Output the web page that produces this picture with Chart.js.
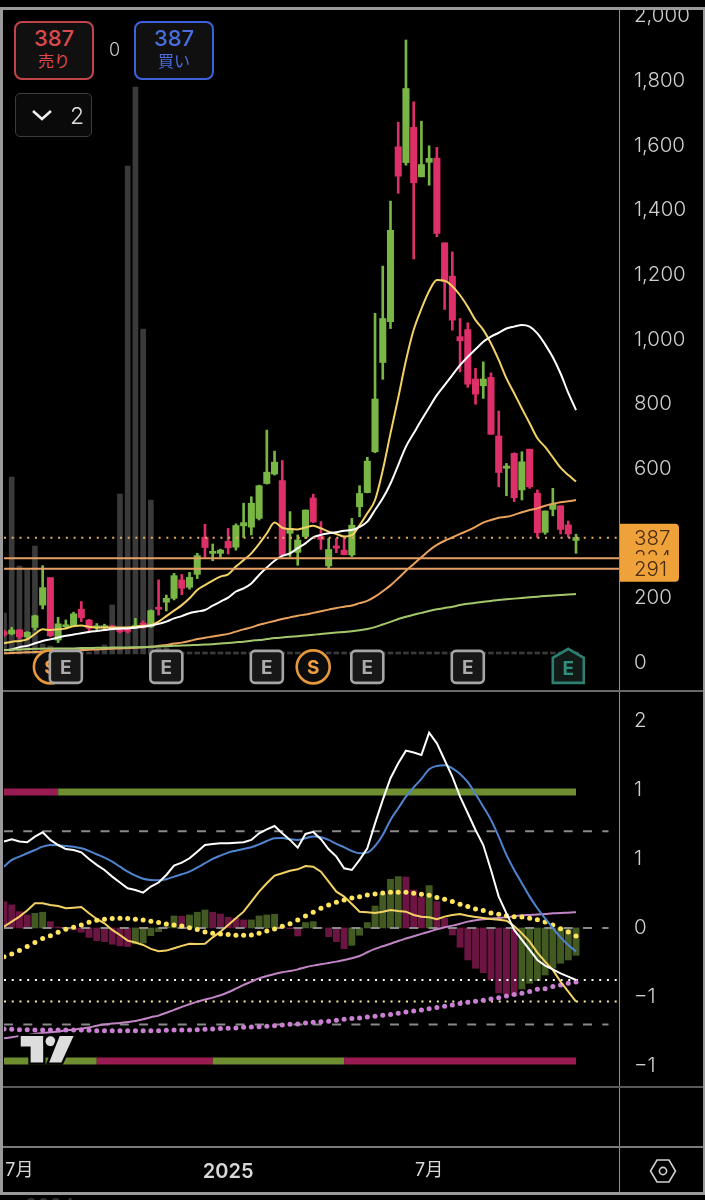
<!DOCTYPE html>
<html lang="ja">
<head>
<meta charset="utf-8">
<title>chart</title>
<script src="https://cdn.jsdelivr.net/npm/chart.js@4"></script>
<style>
html, body { margin: 0; background: #000; }
body { position: relative; width: 705px; height: 1200px; overflow: hidden; font-family: Inter, "Noto Sans CJK JP", sans-serif; }
canvas { position: absolute; display: block; }
#chartPrice { left: 4px; top: 2px; }
#chartOsc { left: 4px; top: 691px; }
.rule { position: absolute; background: #8e8e8e; }
.btn { position: absolute; box-sizing: border-box; background: #101010; border-radius: 8px; border: 2px solid; text-align: center; width: 80px; height: 59px; top: 21px; }
.btn b { display: block; font-weight: 500; font-size: 22px; line-height: 24px; margin-top: 3px; }
.btn span { display: block; font-size: 16px; line-height: 22px; }
</style>
</head>
<body>
<canvas id="chartPrice" width="698" height="688"></canvas>
<canvas id="chartOsc" width="698" height="500"></canvas>

<div class="rule" style="left:0;top:7px;width:705px;height:2.5px;background:#9a9a9a"></div>
<div class="rule" style="left:0;top:7px;width:3.3px;height:1188px;background:#9a9a9a"></div>
<div class="rule" style="left:702.5px;top:7px;width:2.5px;height:1188px;background:#9a9a9a"></div>
<div class="rule" style="left:0;top:1192px;width:705px;height:3px;background:#9a9a9a"></div>
<div class="rule" style="left:618.5px;top:8px;width:1.5px;height:1184px"></div>
<div class="rule" style="left:3px;top:690px;width:700px;height:1.5px;background:#6a6a6a"></div>
<div class="rule" style="left:3px;top:1086px;width:700px;height:1.5px;background:#5a5a5a"></div>
<div class="rule" style="left:3px;top:1146px;width:700px;height:1.5px;background:#7a7a7a"></div>

<div class="btn" style="left:14px;border-color:#c0454a;color:#dc4a4e"><b>387</b><span>売り</span></div>
<div style="position:absolute;left:109px;top:39px;color:#c8c8c8;font-size:18px;font-weight:300">0</div>
<div class="btn" style="left:134px;border-color:#3d62dc;color:#4a6ee0"><b>387</b><span>買い</span></div>
<div style="position:absolute;left:15px;top:93px;width:77px;height:44px;box-sizing:border-box;border:1.5px solid #3c3c3c;border-radius:5px;background:#0a0a0a">
  <svg width="22" height="14" style="position:absolute;left:15px;top:14px"><path d="M2 3 L11 11 L20 3" fill="none" stroke="#eee" stroke-width="2.6"/></svg>
  <div style="position:absolute;left:54px;top:8px;color:#ddd;font-size:23px;font-weight:300">2</div>
</div>

<svg style="position:absolute;left:13px;top:1030px" width="67" height="38" viewBox="40 990 200 115">
  <g fill="#ddd" stroke="#000" stroke-width="14" paint-order="stroke">
    <path d="M62 1008 H130 V1088 H92 V1040 H62 Z"/>
    <circle cx="152" cy="1024" r="15"/>
    <path d="M180 1008 H222 L185 1088 H148 Z"/>
  </g>
</svg>

<svg style="position:absolute;left:649px;top:1158px" width="28" height="26" viewBox="0 0 28 26">
  <path d="M8 2 H20 L26.5 13 L20 24 H8 L1.5 13 Z" fill="none" stroke="#d0d0d0" stroke-width="1.6"/>
  <circle cx="14" cy="13" r="3.6" fill="none" stroke="#d0d0d0" stroke-width="1.6"/>
</svg>

<div style="position:absolute;left:25px;top:1194px;color:#333;font-size:20px">2024</div>
<div style="position:absolute;left:171px;top:1194px;color:#333;font-size:20px">1日</div>

<script>
const opens = [
  97,90,102,81,110,179,264,71,112,114,
  166,133,109,109,115,102,100,110,123,112,
  169,188,200,257,234,274,389,339,339,376,
  358,424,420,447,555,584,564,401,342,391,
  510,391,300,362,349,334,483,527,653,929,
  1055,1596,1547,1656,1503,1548,1561,1299,1196,1009,
  1031,878,857,883,702,602,648,535,661,525,
  404,475,486,427,379];
const closes = [
  87,102,81,95,146,233,84,121,117,152,
  140,107,112,115,104,97,98,115,110,162,
  166,200,270,231,265,332,357,344,349,356,
  425,434,494,548,590,621,333,416,380,473,
  436,382,351,355,335,426,524,624,816,1065,
  1338,1505,1776,1485,1541,1560,1328,1179,1060,996,
  862,831,878,707,589,609,511,622,545,403,
  470,492,413,399,388];
const highs = [
  102,110,104,97,148,301,264,141,133,157,
  190,135,122,120,117,110,110,138,130,164,
  257,210,277,274,280,339,429,368,352,416,
  430,494,514,550,720,655,626,468,396,473,
  522,437,385,385,391,447,548,636,1081,1227,
  1428,1672,1926,1735,1675,1599,1594,1299,1271,1065,
  1052,911,931,897,779,617,650,653,661,535,
  470,540,486,439,398];
const lows = [
  81,87,74,76,102,167,81,63,105,112,
  128,97,102,102,102,93,93,107,107,110,
  148,161,195,211,228,261,327,316,327,337,
  349,388,396,442,553,581,331,329,302,385,
  434,351,294,341,334,329,452,526,650,877,
  1034,1452,1539,1249,1503,1477,1318,1093,1029,900,
  852,800,818,707,545,517,499,504,540,389,
  398,455,399,389,339];
const volumes = [
  4.1,17.7,8.8,8.4,10.8,1,.8,.6,.5,.4,
  .3,.2,.4,.9,4.9,16,48.8,56.7,32.5,15.4,
  .6,.6,.2,.2,.2,.2,.2,.2,.2,.2,
  .2,.2,.2,.2,.2,.2,.2,.2,.2,.2,
  .2,.2,.2,.2,.2,.2,.2,.2,.2,.2,
  .2,.2,.2,.2,.2,.2,.2,.2,.2,.2,
  .2,.2,.2,.2,.2,.2,.2,.2,.2,.2,
  .2,.2,.2,.2,.2];
const maYellow = [
  61,66,68,73,90,104,102,104,107,114,
  116,112,109,110,110,110,110,112,115,117,
  128,145,162,179,200,226,241,255,267,274,
  298,318,339,368,401,434,418,414,413,419,
  424,416,406,399,391,395,426,463,504,596,
  710,820,935,1030,1095,1150,1184,1182,1165,1137,
  1101,1060,1030,988,937,880,834,787,741,695,
  668,636,604,581,561];
const maWhite = [
  40,42,49,53,61,68,73,79,84,88,
  92,96,99,102,105,106,107,109,112,116,
  121,128,138,145,154,159,164,177,190,202,
  221,231,246,272,295,316,331,339,355,370,
  388,396,401,404,409,411,421,437,473,509,
  555,612,669,710,751,790,828,859,890,921,
  947,970,993,1009,1021,1034,1040,1045,1040,1019,
  985,945,895,835,782];
const maOrange = [
  30,31,32,33,34,35,36,37,38,39,
  40,41,42,43,44,45,46,47,49,50,
  53,56,60,63,68,74,78,82,86,90,
  97,104,110,118,124,130,136,141,146,150,
  155,160,165,170,174,178,185,192,205,222,
  240,262,285,306,327,348,365,378,388,399,
  409,421,434,442,449,452,458,466,473,478,
  486,492,497,500,504];
const maGreen = [
  40,41,42,43,44,44,45,45,45,45,
  46,46,47,47,48,48,48,49,49,50,
  51,52,53,54,55,56,57,58,60,62,
  64,66,69,71,74,77,79,81,83,85,
  87,90,92,94,96,98,101,105,111,119,
  127,136,143,149,155,161,166,170,174,179,
  183,186,189,192,195,197,199,201,203,205,
  207,209,210,212,213];

const oscWhite = [
  .626,.643,.626,.621,.662,.693,.638,.601,.572,.565,
  .548,.5,.457,.42,.372,.329,.287,.275,.256,.3,
  .329,.384,.452,.473,.505,.553,.601,.609,.614,.614,
  .618,.621,.638,.686,.715,.739,.686,.638,.582,.681,
  .696,.643,.57,.517,.432,.42,.493,.577,.758,.928,
  1.085,1.193,1.285,1.271,1.254,1.415,1.338,1.217,1.097,.952,
  .831,.71,.601,.42,.227,.106,-.014,-.087,-.159,-.232,
  -.273,-.3,-.329,-.353,-.377];
const oscBlue = [
  .444,.493,.517,.541,.565,.589,.601,.599,.594,.589,
  .577,.558,.534,.51,.481,.444,.408,.379,.357,.348,
  .345,.353,.372,.389,.408,.437,.469,.5,.524,.546,
  .56,.572,.585,.606,.63,.65,.652,.643,.638,.65,
  .662,.657,.638,.609,.585,.558,.541,.546,.594,.674,
  .783,.867,.952,1.019,1.08,1.15,1.174,1.179,1.157,1.116,
  1.056,.971,.879,.783,.662,.529,.42,.324,.227,.143,
  .07,-.002,-.068,-.123,-.171];
const oscYellow = [
  .01,.046,.082,.126,.179,.179,.167,.159,.143,.147,
  .152,.106,.065,.034,-.014,-.051,-.092,-.106,-.123,-.152,
  -.169,-.164,-.147,-.13,-.114,-.116,-.114,-.068,-.027,.022,
  .07,.118,.191,.263,.324,.379,.396,.415,.425,.449,
  .444,.408,.336,.263,.227,.174,.118,.114,.109,.118,
  .13,.123,.118,.094,.082,.077,.063,.082,.094,.101,
  .089,.08,.072,.065,.06,.053,.014,-.039,-.099,-.179,
  -.244,-.304,-.389,-.461,-.534];
const oscYellowDots = [
  -.208,-.188,-.164,-.135,-.106,-.077,-.056,-.031,-.01,.005,
  .022,.041,.056,.063,.068,.07,.068,.063,.058,.048,
  .039,.029,.022,.014,.002,-.012,-.029,-.039,-.043,-.048,
  -.053,-.053,-.051,-.039,-.022,-.007,.012,.031,.058,.087,
  .114,.143,.167,.186,.203,.217,.227,.239,.246,.254,
  .258,.258,.258,.251,.244,.237,.22,.208,.191,.171,
  .155,.138,.126,.109,.099,.089,.082,.08,.07,.06,
  .043,.022,-.005,-.029,-.058];
const oscPink = [
  -.8,-.792,-.783,-.775,-.768,-.761,-.756,-.751,-.742,-.737,
  -.729,-.722,-.708,-.7,-.693,-.688,-.681,-.674,-.662,-.647,
  -.635,-.614,-.594,-.572,-.553,-.534,-.519,-.505,-.488,-.466,
  -.44,-.413,-.389,-.365,-.348,-.333,-.321,-.312,-.3,-.285,
  -.273,-.263,-.254,-.244,-.232,-.22,-.203,-.176,-.152,-.133,
  -.114,-.094,-.077,-.06,-.043,-.027,-.01,.005,.017,.031,
  .046,.056,.063,.068,.072,.077,.085,.092,.094,.097,
  .101,.106,.109,.111,.114];
const oscPinkDots = [
  -.732,-.734,-.737,-.737,-.739,-.739,-.739,-.739,-.739,-.739,
  -.739,-.742,-.744,-.744,-.744,-.744,-.744,-.744,-.744,-.744,
  -.744,-.742,-.739,-.739,-.739,-.737,-.734,-.732,-.729,-.727,
  -.725,-.72,-.717,-.715,-.713,-.708,-.703,-.698,-.696,-.688,
  -.684,-.679,-.676,-.669,-.662,-.657,-.652,-.645,-.64,-.633,
  -.628,-.618,-.609,-.601,-.594,-.585,-.577,-.568,-.558,-.548,
  -.539,-.531,-.524,-.514,-.505,-.493,-.483,-.473,-.461,-.444,
  -.44,-.425,-.413,-.401,-.391];
const oscHist = [
  .19,.167,.118,.094,.106,.114,.046,.007,-.007,-.014,
  -.031,-.068,-.092,-.099,-.118,-.13,-.135,-.115,-.109,-.056,
  -.027,.01,.087,.085,.094,.114,.13,.114,.101,.077,
  .07,.058,.058,.087,.094,.099,.01,-.005,-.058,.039,
  .046,0,-.063,-.099,-.15,-.126,-.053,.039,.159,.246,
  .353,.372,.369,.275,.222,.307,.191,.07,-.051,-.14,
  -.232,-.292,-.324,-.377,-.47,-.48,-.49,-.442,-.401,-.382,
  -.341,-.292,-.256,-.232,-.198];
// 1 = green, 0 = red, per bar
const topBand = [
  0,0,0,0,0,0,0,1,1,1,
  1,1,1,1,1,1,1,1,1,1,
  1,1,1,1,1,1,1,1,1,1,
  1,1,1,1,1,1,1,1,1,1,
  1,1,1,1,1,1,1,1,1,1,
  1,1,1,1,1,1,1,1,1,1,
  1,1,1,1,1,1,1,1,1,1,
  1,1,1,1,1];
const bottomBand = [
  1,1,1,1,1,1,1,1,1,1,
  1,1,0,0,0,0,0,0,0,0,
  0,0,0,0,0,0,0,1,1,1,
  1,1,1,1,1,1,1,1,1,1,
  1,1,1,1,0,0,0,0,0,0,
  0,0,0,0,0,0,0,0,0,0,
  0,0,0,0,0,0,0,0,0,0,
  0,0,0,0,0];

const priceTicks = [0,200,400,600,800,1000,1200,1400,1600,1800,2000];
const oscTicks = [1.5,1,.5,0,-.5,-1];
const oscTickLabels = ['2','1','1','0','−1','−1'];
const timeTicks = [2,29,55];
const timeLabels = ['7月','2025','7月'];
const boldTimeTick = 29;
const earnBars = [8,21,34,47,60];
const splitBars = [6,40];
const nextEarnBar = 73;
const eventLevel = -12;
const tagValues = [387,324,291];
const lastPrice = 387;
const supportLines = [324,291];
const oscDashed = [.7,0,-.7];
const oscDotWhite = -.377;
const oscDotYellow = -.533;
const topBandLevel = .986;
const bottomBandLevel = -.964;

const xMin = 0, xMax = 79.56;
const GREEN = '#79b645', RED = '#dd2f68';
const tickFont = { family: 'Inter', size: 20.5, weight: '300' };

function pts(arr) {
  return arr.map((v, i) => ({ x: i, y: v }));
}
function hline(y, x2) {
  return [{ x: xMin, y: y }, { x: x2, y: y }];
}
function maSet(arr, color) {
  return { type: 'line', data: pts(arr), borderColor: color, borderWidth: 2, pointRadius: 0, cubicInterpolationMode: 'monotone', order: 4, yAxisID: 'y' };
}

const candleColors = closes.map((c, i) => c >= opens[i] ? GREEN : RED);

const eventsPlugin = {
  id: 'events',
  afterDraw(chart) {
    const c = chart.ctx, x = chart.scales.x, y = chart.scales.y;
    const cy = y.getPixelForValue(eventLevel);
    c.save();
    c.textAlign = 'center';
    c.textBaseline = 'middle';
    c.font = '700 19px Inter';
    splitBars.forEach(b => {
      const cx = x.getPixelForValue(b);
      c.beginPath();
      c.arc(cx, cy, 16.5, 0, Math.PI * 2);
      c.fillStyle = '#0c0c0c';
      c.fill();
      c.lineWidth = 2.6;
      c.strokeStyle = '#e8983c';
      c.stroke();
      c.fillStyle = '#f0a040';
      c.fillText('S', cx, cy + 1);
    });
    earnBars.forEach(b => {
      const cx = x.getPixelForValue(b);
      c.beginPath();
      c.roundRect(cx - 16, cy - 16, 32, 32, 4);
      c.fillStyle = '#171717';
      c.fill();
      c.lineWidth = 2.6;
      c.strokeStyle = '#a6a6a6';
      c.stroke();
      c.fillStyle = '#ababab';
      c.fillText('E', cx, cy + 1);
    });
    const nx = x.getPixelForValue(nextEarnBar);
    c.beginPath();
    c.moveTo(nx, cy - 18);
    c.lineTo(nx + 15.5, cy - 9);
    c.lineTo(nx + 15.5, cy + 16);
    c.lineTo(nx - 15.5, cy + 16);
    c.lineTo(nx - 15.5, cy - 9);
    c.closePath();
    c.fillStyle = '#121a18';
    c.fill();
    c.strokeStyle = '#2f7f70';
    c.stroke();
    c.fillStyle = '#2f8f7e';
    c.fillText('E', nx, cy + 2);

    // price tags on the axis
    const left = chart.chartArea.right + 1;
    const w = 59;
    const t0 = y.getPixelForValue(tagValues[0]);
    const t2 = y.getPixelForValue(tagValues[2]);
    c.fillStyle = '#f0a23a';
    c.beginPath();
    c.roundRect(left, t0 - 14, w, t2 - t0 + 27, [0, 4, 4, 0]);
    c.fill();
    c.font = "300 20.5px Inter";
    c.fillStyle = '#4a2c10';
    c.textAlign = 'left';
    c.fillText(String(tagValues[0]), left + 14, t0 + 1);
    c.fillText(String(tagValues[1]), left + 14, y.getPixelForValue(tagValues[1]) + 1);
    c.fillStyle = '#f0a23a';
    c.fillRect(left, y.getPixelForValue(tagValues[1]) - 3, w, 13);
    c.fillStyle = '#4a2c10';
    c.fillText(String(tagValues[2]), left + 14, t2 + 1);
    c.restore();
  }
};

new Chart(document.getElementById('chartPrice'), {
  type: 'bar',
  data: {
    datasets: [
      { data: pts(volumes), backgroundColor: '#3a3a3a', barThickness: 5, grouped: false, order: 10, yAxisID: 'vol' },
      { data: lows.map((l, i) => ({ x: i, y: [l, highs[i]] })), backgroundColor: candleColors, barThickness: 2, grouped: false, order: 8, yAxisID: 'y' },
      { data: opens.map((o, i) => ({ x: i, y: [o, closes[i]] })), backgroundColor: candleColors, barThickness: 6.4, grouped: false, order: 7, minBarLength: 2, yAxisID: 'y' },
      maSet(maGreen, '#a3c86c'),
      maSet(maOrange, '#eaa25c'),
      maSet(maWhite, '#ffffff'),
      maSet(maYellow, '#f3d264'),
      { type: 'line', data: hline(supportLines[0], xMax), borderColor: '#e6a066', borderWidth: 2, pointRadius: 0, order: 3, yAxisID: 'y' },
      { type: 'line', data: hline(supportLines[1], xMax), borderColor: '#e6a066', borderWidth: 2, pointRadius: 0, order: 3, yAxisID: 'y' },
      { type: 'line', data: hline(lastPrice, xMax), borderColor: '#e9aa62', borderWidth: 2, borderDash: [2, 5.73], pointRadius: 0, order: 3, yAxisID: 'y' }
    ]
  },
  options: {
    responsive: false,
    animation: false,
    layout: { padding: { top: 6 }, autoPadding: false },
    plugins: { legend: { display: false }, tooltip: { enabled: false } },
    scales: {
      x: { type: 'linear', display: false, min: xMin, max: xMax, offset: false },
      y: {
        position: 'right',
        min: -83.5,
        max: 2025,
        grid: { display: false },
        border: { display: false },
        afterBuildTicks: ax => { ax.ticks = priceTicks.map(v => ({ value: v })); },
        afterFit: ax => { ax.width = 83; ax.paddingTop = 0; ax.paddingBottom = 0; },
        ticks: {
          color: '#d0d0d0',
          font: tickFont,
          padding: 7,
          autoSkip: false,
          callback: v => v.toLocaleString('en-US')
        }
      },
      vol: { display: false, min: -3.6, max: 64.6 }
    }
  },
  plugins: [eventsPlugin]
});

new Chart(document.getElementById('chartOsc'), {
  type: 'bar',
  data: {
    datasets: [
      {
        data: pts(oscHist),
        backgroundColor: oscHist.map((v, i) => i > 0 && v >= oscHist[i - 1] ? '#425a22' : '#6c1542'),
        barThickness: 6.2,
        grouped: false,
        order: 10
      },
      { type: 'line', data: hline(oscDashed[0], 78.2), borderColor: '#8a8a8a', borderWidth: 2, borderDash: [9, 10.3], pointRadius: 0, order: 9 },
      { type: 'line', data: hline(oscDashed[1], 78.2), borderColor: '#8a8a8a', borderWidth: 2, borderDash: [9, 10.3], pointRadius: 0, order: 9 },
      { type: 'line', data: hline(oscDashed[2], 78.2), borderColor: '#8a8a8a', borderWidth: 2, borderDash: [9, 10.3], pointRadius: 0, order: 9 },
      { type: 'line', data: hline(oscDotWhite, xMax), borderColor: '#ffffff', borderWidth: 2, borderDash: [2, 5.73], pointRadius: 0, order: 9 },
      { type: 'line', data: hline(oscDotYellow, xMax), borderColor: '#f5eea0', borderWidth: 2, borderDash: [2, 5.73], pointRadius: 0, order: 9 },
      {
        type: 'line',
        data: pts(topBand.map(() => topBandLevel)),
        borderWidth: 7,
        borderColor: '#6f8e2f',
        pointRadius: 0,
        order: 8,
        segment: { borderColor: c => topBand[c.p0DataIndex] ? '#6f8e2f' : '#9b1c52' }
      },
      {
        type: 'line',
        data: pts(bottomBand.map(() => bottomBandLevel)),
        borderWidth: 7,
        borderColor: '#6f8e2f',
        pointRadius: 0,
        order: 8,
        segment: { borderColor: c => bottomBand[c.p0DataIndex] ? '#6f8e2f' : '#9b1c52' }
      },
      { type: 'line', data: pts(oscPink), borderColor: '#c184c4', borderWidth: 2, pointRadius: 0, cubicInterpolationMode: 'monotone', order: 6 },
      { type: 'line', data: pts(oscPinkDots), showLine: false, pointRadius: 2.5, pointBackgroundColor: '#c97fd2', pointBorderWidth: 0, order: 5 },
      { type: 'line', data: pts(oscYellow), borderColor: '#f3d264', borderWidth: 2, pointRadius: 0, order: 4 },
      { type: 'line', data: pts(oscYellowDots), showLine: false, pointRadius: 2.5, pointBackgroundColor: '#ffe45c', pointBorderWidth: 0, order: 3 },
      { type: 'line', data: pts(oscBlue), borderColor: '#4f84cf', borderWidth: 2, pointRadius: 0, cubicInterpolationMode: 'monotone', order: 2 },
      { type: 'line', data: pts(oscWhite), borderColor: '#ffffff', borderWidth: 2, pointRadius: 0, order: 1 }
    ]
  },
  options: {
    responsive: false,
    animation: false,
    layout: { padding: 0, autoPadding: false },
    plugins: { legend: { display: false }, tooltip: { enabled: false } },
    scales: {
      x: {
        type: 'linear',
        min: xMin,
        max: xMax,
        offset: false,
        grid: { display: false },
        border: { display: false },
        afterBuildTicks: ax => { ax.ticks = timeTicks.map(v => ({ value: v })); },
        afterFit: ax => { ax.height = 45; ax.paddingLeft = 0; ax.paddingRight = 0; },
        ticks: {
          color: '#d8d8d8',
          autoSkip: false,
          maxRotation: 0,
          padding: 6,
          font: ctx => ctx.tick && ctx.tick.value === boldTimeTick
            ? { family: 'Inter', size: 20, weight: '600' }
            : { family: 'Inter, "Noto Sans CJK JP"', size: 18, weight: '400' },
          callback: v => timeLabels[timeTicks.indexOf(v)]
        }
      },
      y: {
        position: 'right',
        min: -1.58,
        max: 1.717,
        grid: { display: false },
        border: { display: false },
        afterBuildTicks: ax => { ax.ticks = oscTicks.map(v => ({ value: v })); },
        afterFit: ax => { ax.width = 83; ax.paddingTop = 0; ax.paddingBottom = 0; },
        ticks: {
          color: '#d0d0d0',
          font: tickFont,
          padding: 7,
          autoSkip: false,
          callback: v => oscTickLabels[oscTicks.indexOf(v)]
        }
      }
    }
  }
});
</script>
</body>
</html>
